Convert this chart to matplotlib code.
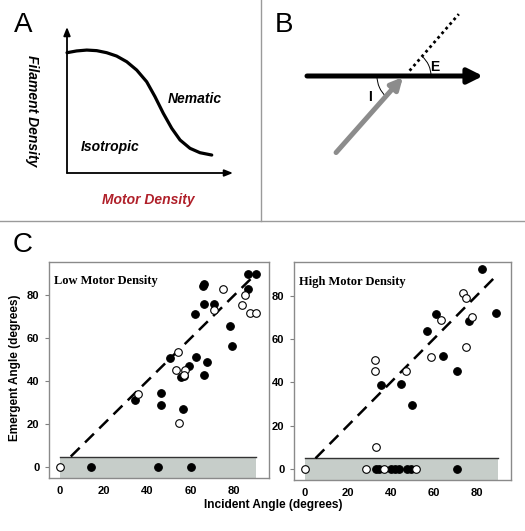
import numpy as np
import matplotlib
matplotlib.use("Agg")
import matplotlib.pyplot as plt
from matplotlib.lines import Line2D
from matplotlib.patches import Arc

plt.rcParams["font.family"] = ["Liberation Sans", "DejaVu Sans"]

# ---- panel A: schematic phase boundary (arbitrary units) ----
a_motor = [0.0, 0.058, 0.119, 0.179, 0.239, 0.299, 0.36, 0.42, 0.48, 0.53,
           0.58, 0.631, 0.681, 0.741, 0.801, 0.872]
a_filament = [0.824, 0.836, 0.842, 0.838, 0.824, 0.801, 0.762, 0.705, 0.625,
              0.523, 0.409, 0.306, 0.226, 0.169, 0.139, 0.123]

# ---- panel B: geometry of the collision (degrees) ----
b_incident = 48
b_emergent = 49

# ---- panel C: low motor density ----
low_fill_x = [34.7, 46.3, 46.5, 50.5, 56.3, 55.5, 57.0, 59.3, 62.4, 62.0, 65.5,
              66.3, 66.0, 66.0, 67.5, 70.6, 78.1, 78.8, 86.3, 86.3, 90.0,
              14.2, 45.0, 60.3]
low_fill_y = [31.1, 34.5, 29.0, 50.7, 27.0, 42.0, 42.6, 47.2, 51.2, 71.5, 84.2,
              85.4, 76.1, 43.0, 49.0, 75.8, 65.7, 56.6, 90.0, 82.8, 90.0,
              0, 0, 0]
low_open_x = [0.0, 35.7, 54.4, 53.2, 54.7, 57.5, 57.0, 70.6, 75.1, 83.5, 84.8,
              87.4, 90.2]
low_open_y = [0, 33.9, 53.5, 45.3, 20.7, 45.3, 43.0, 73.0, 82.8, 75.4, 80.0,
              72.0, 72.0]

# ---- panel C: high motor density ----
high_fill_x = [82.5, 89.1, 61.3, 57.1, 76.3, 64.5, 70.7, 35.7, 45.0, 50.0,
               33.2, 34.4, 40.1, 41.9, 43.7, 47.6, 49.6, 71.0]
high_fill_y = [92.1, 72.0, 71.4, 63.8, 68.4, 52.2, 45.4, 38.7, 39.2, 29.7,
               0, 0, 0, 0, 0, 0, 0, 0]
high_open_x = [0.0, 28.5, 36.7, 51.9, 33.1, 32.7, 32.8, 46.9, 58.7, 63.6, 73.8,
               75.1, 77.9, 75.2]
high_open_y = [0, 0, 0, 0, 10.4, 50.2, 45.2, 45.2, 51.5, 68.6, 81.1, 79.0,
               70.0, 56.5]

fit_x = [5, 90]
fit_y = [5, 90]
band_x = [0, 90]
band_top = 5

W, H = 525, 531
fig = plt.figure(figsize=(W / 100, H / 100), dpi=100)


def px_axes(x0, y0, x1, y1):
    return fig.add_axes([x0 / W, 1 - y1 / H, (x1 - x0) / W, (y1 - y0) / H])


# separators
fig.add_artist(Line2D([0, 1], [1 - 221 / H] * 2, color="#9a9a9a", lw=1))
fig.add_artist(Line2D([261 / W] * 2, [1 - 221 / H, 1], color="#9a9a9a", lw=1))

# ---------------- panel A ----------------
axA = px_axes(67, 27, 233, 173)
axA.set_xlim(0, 1)
axA.set_ylim(0, 1)
axA.axis("off")
axA.annotate("", xy=(0, 1.0), xytext=(0, 0), xycoords="axes fraction",
             arrowprops=dict(arrowstyle="-|>,head_length=0.5,head_width=0.2",
                             color="black", lw=1.3, shrinkA=0, shrinkB=0))
axA.annotate("", xy=(1.0, 0), xytext=(0, 0), xycoords="axes fraction",
             arrowprops=dict(arrowstyle="-|>,head_length=0.5,head_width=0.2",
                             color="black", lw=1.3, shrinkA=0, shrinkB=0))
axA.plot(a_motor, a_filament, color="black", lw=2.3, solid_capstyle="round",
         clip_on=False)
axA.text(0.77, 0.51, "Nematic", ha="center", va="center", fontsize=10,
         fontweight="bold", style="italic")
axA.text(0.26, 0.18, "Isotropic", ha="center", va="center", fontsize=10,
         fontweight="bold", style="italic")
axA.text(-0.21, 0.43, "Filament Density", ha="center", va="center",
         fontsize=10, fontweight="bold", style="italic", rotation=-90)
axA.text(0.49, -0.185, "Motor Density", ha="center", va="center",
         fontsize=10, fontweight="bold", style="italic", color="#b0202a")
fig.text(23 / W, 1 - 25 / H, "A", ha="center", va="center", fontsize=20)

# ---------------- panel B ----------------
axB = px_axes(262, 0, 525, 221)
axB.set_xlim(-143, 120)
axB.set_ylim(-145, 76)
axB.axis("off")
axB.annotate("", xy=(78, 0), xytext=(-98, 0),
             arrowprops=dict(arrowstyle="-|>,head_length=0.9,head_width=0.45",
                             color="black", lw=3.6, shrinkA=0, shrinkB=0))
ti = np.deg2rad(180 + b_incident)
axB.annotate("", xy=(-2, -1), xytext=(103 * np.cos(ti), 103 * np.sin(ti)),
             arrowprops=dict(arrowstyle="-|>,head_length=0.7,head_width=0.35",
                             color="#8c8c8c", lw=3.6, shrinkA=0, shrinkB=0))
te = np.deg2rad(b_emergent)
axB.plot([7 * np.cos(te), 82 * np.cos(te)], [7 * np.sin(te), 82 * np.sin(te)],
         color="black", lw=2.0, linestyle=(0, (1, 1.2)))
axB.add_patch(Arc((0, 0), 56, 56, theta1=180, theta2=180 + b_incident,
                  color="black", lw=0.7))
axB.add_patch(Arc((0, 0), 52, 52, theta1=0, theta2=b_emergent,
                  color="black", lw=0.7))
axB.text(-35, -21, "I", ha="center", va="center", fontsize=10, fontweight="bold")
axB.text(30, 9, "E", ha="center", va="center", fontsize=10, fontweight="bold")
fig.text(284 / W, 1 - 25 / H, "B", ha="center", va="center", fontsize=20)

# ---------------- panel C ----------------
fig.text(23 / W, 1 - 245 / H, "C", ha="center", va="center", fontsize=20)


def scatter_panel(ax, fx, fy, ox, oy, title):
    ax.set_xlim(-5, 96)
    ax.set_ylim(-5, 95.5)
    ax.fill_between(band_x, -5, band_top, color="#c6cdc9", lw=0, zorder=1)
    ax.plot(band_x, [band_top, band_top], color="#333333", lw=1.0, zorder=2)
    ax.plot(fit_x, fit_y, color="black", lw=1.8, linestyle=(0, (5, 3)), zorder=2)
    ax.scatter(fx, fy, s=30, color="black", edgecolor="black", lw=0.8,
               zorder=3, clip_on=False)
    ax.scatter(ox, oy, s=30, facecolor="white", edgecolor="black", lw=0.8,
               zorder=4, clip_on=False)
    ax.set_xticks([0, 20, 40, 60, 80])
    ax.set_yticks([0, 20, 40, 60, 80])
    ax.tick_params(axis="x", length=0, pad=6, labelsize=8)
    ax.tick_params(axis="y", length=3, width=0.8, color="#808080", pad=4,
                   labelsize=8)
    for lab in ax.get_xticklabels() + ax.get_yticklabels():
        lab.set_fontweight("bold")
    for sp in ax.spines.values():
        sp.set_color("#8a8a8a")
        sp.set_linewidth(1.0)
    ax.text(0.025, 0.91, title, transform=ax.transAxes, ha="left", va="center",
            fontsize=9, fontweight="bold", family="Liberation Serif")


axL = px_axes(49, 262, 269, 478)
scatter_panel(axL, low_fill_x, low_fill_y, low_open_x, low_open_y,
              "Low Motor Density")
axR = px_axes(294, 262, 511, 480)
scatter_panel(axR, high_fill_x, high_fill_y, high_open_x, high_open_y,
              "High Motor Density")

fig.text(15 / W, 1 - 368 / H, "Emergent Angle (degrees)", rotation=90,
         ha="center", va="center", fontsize=8.5, fontweight="bold")
fig.text(273 / W, 1 - 505 / H, "Incident Angle (degrees)", ha="center",
         va="center", fontsize=8.6, fontweight="bold")

fig.savefig("out.png", dpi=100)
